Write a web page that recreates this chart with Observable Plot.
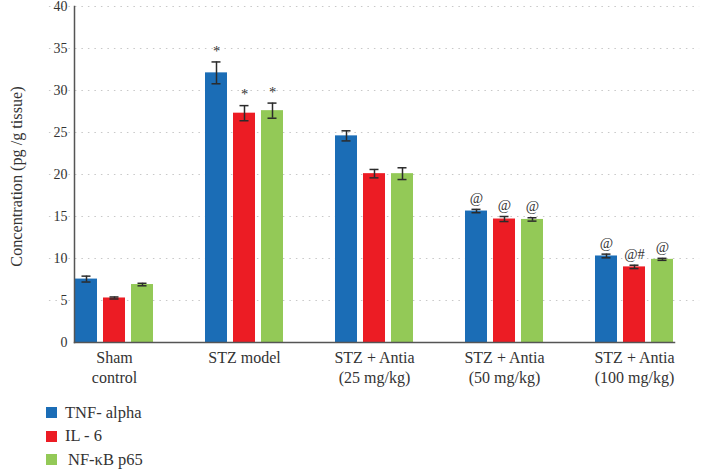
<!DOCTYPE html>
<html>
<head>
<meta charset="utf-8">
<script src="https://cdn.jsdelivr.net/npm/d3@7"></script>
<script src="https://cdn.jsdelivr.net/npm/@observablehq/plot@0.6"></script>
<style>
  html, body { margin: 0; padding: 0; background: #fff; }
  #chart { width: 701px; font-family: "Liberation Serif", "DejaVu Serif", serif; }
  .legend { padding-left: 46px; margin-top: 6px; font-size: 16.5px; color: #333; }
  .legend .row { display: flex; align-items: center; height: 23.5px; }
  .legend .sw { width: 11px; height: 11px; margin-right: 8px; }
</style>
</head>
<body>
<div id="chart"></div>
<script>
const groups = ["Sham control", "STZ model", "STZ + Antia (25 mg/kg)", "STZ + Antia (50 mg/kg)", "STZ + Antia (100 mg/kg)"];
const groupLabels = ["Sham\ncontrol", "STZ model", "STZ + Antia\n(25 mg/kg)", "STZ + Antia\n(50 mg/kg)", "STZ + Antia\n(100 mg/kg)"];
const series = ["TNF- alpha", "IL - 6", "NF-κB p65"];
const colors = ["#1b6db6", "#ec1c24", "#93c957"];
const yLabel = "Concentration (pg /g tissue)";

const tnfValues = [7.55, 32.1, 24.6, 15.65, 10.3];
const il6Values = [5.3, 27.3, 20.1, 14.7, 9.0];
const nfkbValues = [6.9, 27.6, 20.1, 14.65, 9.9];

const tnfErrors = [0.35, 1.3, 0.6, 0.2, 0.22];
const il6Errors = [0.12, 0.9, 0.5, 0.3, 0.2];
const nfkbErrors = [0.15, 0.9, 0.7, 0.2, 0.12];

const tnfMarks = ["", "*", "", "@", "@"];
const il6Marks = ["", "*", "", "@", "@#"];
const nfkbMarks = ["", "*", "", "@", "@"];

const yTicks = [0, 5, 10, 15, 20, 25, 30, 35, 40];

const valueSets = [tnfValues, il6Values, nfkbValues];
const errorSets = [tnfErrors, il6Errors, nfkbErrors];
const markSets = [tnfMarks, il6Marks, nfkbMarks];

const table = [];
groups.forEach((g, gi) => {
  series.forEach((s, si) => {
    const v = valueSets[si][gi], e = errorSets[si][gi];
    table.push({group: g, series: s, value: v, lo: v - e, hi: v + e, note: markSets[si][gi]});
  });
});

const labelOf = new Map(groups.map((g, i) => [g, groupLabels[i]]));
const gap = 25.1;

const chart = Plot.plot({
  width: 701,
  height: 395,
  marginLeft: 47,
  marginRight: 0,
  marginTop: 6,
  marginBottom: 53,
  style: {fontFamily: "Liberation Serif, DejaVu Serif, serif", fontSize: "13px", color: "#333", background: "#fff"},
  fx: {domain: groups, paddingInner: 0.383, paddingOuter: 0.1915, label: null},
  x: {domain: series, paddingInner: 0.2, paddingOuter: 0, axis: null},
  y: {domain: [0, 40], ticks: yTicks, label: null},
  color: {domain: series, range: colors},
  marks: [
    Plot.ruleY(yTicks.filter(d => d > 0), {stroke: "#c8c8c8", strokeDasharray: "1.5,5", strokeWidth: 1.2, insetLeft: -gap, insetRight: -gap}),
    Plot.barY(table, {fx: "group", x: "series", y: "value", fill: "series"}),
    Plot.ruleX(table, {fx: "group", x: "series", y1: "lo", y2: "hi", stroke: "#2b2b2b", strokeWidth: 1.5}),
    Plot.tickY(table, {fx: "group", x: "series", y: "lo", stroke: "#2b2b2b", strokeWidth: 1.5, insetLeft: 6.5, insetRight: 6.5}),
    Plot.tickY(table, {fx: "group", x: "series", y: "hi", stroke: "#2b2b2b", strokeWidth: 1.5, insetLeft: 6.5, insetRight: 6.5}),
    Plot.text(table, {fx: "group", x: "series", y: "hi", text: "note", dy: -11, fontSize: 14.5, fill: "#333"}),
    Plot.axisY({ticks: yTicks, tickSize: 0, tickPadding: 7, fontSize: 14, label: null}),
    Plot.text([{g: groups[0], label: yLabel}], {fx: "g", frameAnchor: "left", textAnchor: "middle", lineAnchor: "middle", text: "label", rotate: -90, dx: -58, dy: 2, fontSize: 16.2, fill: "#333"}),
    Plot.axisFx({anchor: "bottom", tickSize: 0, tickPadding: 6, fontSize: 16, lineHeight: 1.27, tickFormat: d => labelOf.get(d), label: null}),
    Plot.frame({anchor: "bottom", facet: "super", stroke: "#555", strokeWidth: 1.5}),
    Plot.frame({anchor: "left", facet: "super", stroke: "#555", strokeWidth: 1.5})
  ]
});

const root = document.getElementById("chart");
root.appendChild(chart);

const legend = document.createElement("div");
legend.className = "legend";
series.forEach((s, i) => {
  const row = document.createElement("div");
  row.className = "row";
  const sw = document.createElement("span");
  sw.className = "sw";
  sw.style.background = colors[i];
  const t = document.createElement("span");
  t.textContent = s;
  if (i === 2) t.style.marginLeft = "3px";
  row.appendChild(sw);
  row.appendChild(t);
  legend.appendChild(row);
});
root.appendChild(legend);
</script>
</body>
</html>
